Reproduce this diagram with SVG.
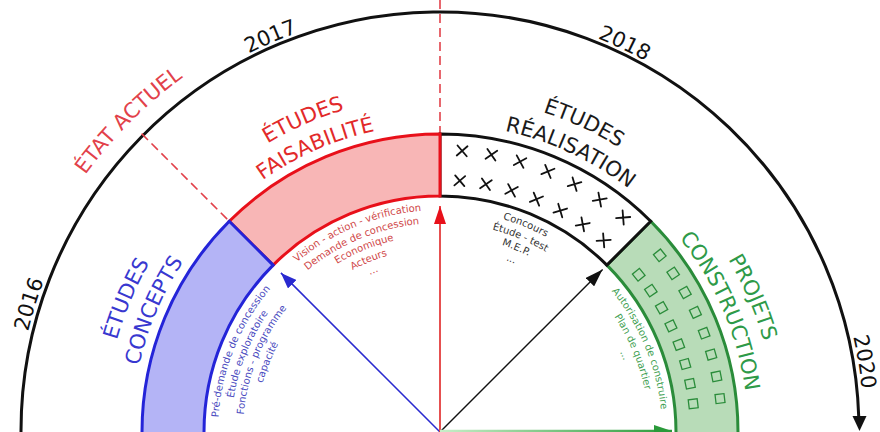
<svg xmlns="http://www.w3.org/2000/svg" xmlns:xlink="http://www.w3.org/1999/xlink" width="880" height="432" viewBox="0 0 880 432">
<style>
.big{font-family:"DejaVu Sans",sans-serif;font-size:21px;text-anchor:middle}
.small{font-family:"DejaVu Sans",sans-serif;font-size:10px;text-anchor:middle}
.year{font-family:"DejaVu Sans",sans-serif;font-size:21px;fill:#111;text-anchor:middle}
.band{stroke-width:3;stroke-linejoin:miter}
.dash{fill:none;stroke:#e2414a;stroke-width:1.6;stroke-dasharray:9 5}
.xm{fill:none;stroke:#111;stroke-width:1.8;stroke-linecap:round}
.sq{fill:none;stroke:#2a8c3a;stroke-width:1.3}
</style>
<defs>
<path id="r172" d="M278.37,490.83 A172,172 0 1 1 601.63,490.83"/>
<path id="r184" d="M267.09,494.93 A184,184 0 1 1 612.91,494.93"/>
<path id="r197" d="M254.88,499.37 A197,197 0 1 1 625.12,499.37"/>
<path id="r209" d="M243.6,503.48 A209,209 0 1 1 636.4,503.48"/>
<path id="r222" d="M231.39,507.92 A222,222 0 1 1 648.61,507.92"/>
<path id="r308" d="M150.57,537.34 A308,308 0 1 1 729.43,537.34"/>
<path id="r336" d="M124.26,546.91 A336,336 0 1 1 755.74,546.91"/>
<path id="r424" d="M41.57,577.01 A424,424 0 1 1 838.43,577.01"/>
<path id="r438" d="M28.41,581.8 A438,438 0 1 1 851.59,581.8"/>
<path id="xmark" d="M-5,-5 L5,5 M5,-5 L-5,5"/>
<rect id="sqr" x="-4.5" y="-4.5" width="9" height="9"/>
<marker id="ah-blue" viewBox="0 0 16 12" refX="16" refY="6" markerWidth="16" markerHeight="12" markerUnits="userSpaceOnUse" orient="auto"><path d="M0,0 L16,6 L0,12 Z" fill="#2a2ad0"/></marker>
<marker id="ah-red" viewBox="0 0 18 12" refX="18" refY="6" markerWidth="18" markerHeight="12" markerUnits="userSpaceOnUse" orient="auto"><path d="M0,0 L18,6 L0,12 Z" fill="#e8101a"/></marker>
<marker id="ah-black" viewBox="0 0 18 12" refX="18" refY="6" markerWidth="18" markerHeight="12" markerUnits="userSpaceOnUse" orient="auto"><path d="M0,0 L18,6 L0,12 Z" fill="#111"/></marker>
<marker id="ah-green" viewBox="0 0 18 12" refX="18" refY="6" markerWidth="18" markerHeight="12" markerUnits="userSpaceOnUse" orient="auto"><path d="M0,0 L18,6 L0,12 Z" fill="#2a9a3a"/></marker>
<linearGradient id="gline" gradientUnits="userSpaceOnUse" x1="440" y1="0" x2="672" y2="0"><stop offset="0" stop-color="#c8eec8"/><stop offset="1" stop-color="#2a9a3a"/></linearGradient>
</defs>
<rect width="880" height="432" fill="#fff"/>

<g id="timeline">
<path d="M21,432 A419,419 0 0 1 858.8,418" fill="none" stroke="#111" stroke-width="3"/>
<polygon points="852.5,416 866.5,416 859.5,431" fill="#111"/>
<line class="dash" x1="440" y1="0" x2="440" y2="134"/>
<text class="year"><textPath href="#r424" startOffset="16.95%">2016</textPath></text>
<text class="year"><textPath href="#r424" startOffset="39.45%">2017</textPath></text>
<text class="year"><textPath href="#r424" startOffset="61.55%">2018</textPath></text>
<text class="year"><textPath href="#r424" startOffset="86.64%">2020</textPath></text>
</g>

<g id="etat-actuel">
<line class="dash" x1="141.6" y1="133.6" x2="229.28" y2="221.28"/>
<text class="big" fill="#e2414a" font-size="20"><textPath href="#r438" startOffset="29.55%">ÉTAT ACTUEL</textPath></text>
</g>

<g id="projets-construction">
<path class="band" d="M650.72,221.28 A298,298 0 0 1 738,432 L738,440 L676,440 L676,432 A236,236 0 0 0 606.88,265.12 Z" fill="#b8dcb8" stroke="#2a8c3a"/>
<g class="sq">
<use href="#sqr" transform="translate(659.77,255.3) rotate(51.2)"/>
<use href="#sqr" transform="translate(673.16,273.38) rotate(55.77)"/>
<use href="#sqr" transform="translate(685.05,292.45) rotate(60.34)"/>
<use href="#sqr" transform="translate(695.39,312.43) rotate(64.91)"/>
<use href="#sqr" transform="translate(704.13,333.2) rotate(69.49)"/>
<use href="#sqr" transform="translate(711.15,354.56) rotate(74.06)"/>
<use href="#sqr" transform="translate(716.46,376.4) rotate(78.63)"/>
<use href="#sqr" transform="translate(720.02,398.61) rotate(83.2)"/>
<use href="#sqr" transform="translate(638.73,274.72) rotate(51.2)"/>
<use href="#sqr" transform="translate(650.84,290.57) rotate(55.77)"/>
<use href="#sqr" transform="translate(661.59,307.8) rotate(60.34)"/>
<use href="#sqr" transform="translate(670.94,325.87) rotate(64.91)"/>
<use href="#sqr" transform="translate(678.84,344.66) rotate(69.49)"/>
<use href="#sqr" transform="translate(685.19,364) rotate(74.06)"/>
<use href="#sqr" transform="translate(690,383.75) rotate(78.63)"/>
<use href="#sqr" transform="translate(693.21,403.81) rotate(83.2)"/>
</g>
<text class="big" fill="#2e9a48"><textPath href="#r336" startOffset="80.32%">PROJETS</textPath></text>
<text class="big" fill="#2e9a48"><textPath href="#r308" startOffset="80.32%">CONSTRUCTION</textPath></text>
<text class="small" fill="#3f9f52"><textPath href="#r222" startOffset="80.64%">Autorisation de construire</textPath></text>
<text class="small" fill="#3f9f52"><textPath href="#r209" startOffset="80.64%">Plan de quartier</textPath></text>
<text class="small" fill="#3f9f52"><textPath href="#r197" startOffset="80.64%">...</textPath></text>
</g>

<g id="etudes-realisation">
<path class="band" d="M440,134 A298,298 0 0 1 650.72,221.28 L606.88,265.12 A236,236 0 0 0 440,196 Z" fill="#fff" stroke="#111"/>
<g class="xm">
<use href="#xmark" transform="translate(462.13,150.87) rotate(4.5)"/>
<use href="#xmark" transform="translate(491.39,154.72) rotate(10.5)"/>
<use href="#xmark" transform="translate(520.09,161.61) rotate(16.5)"/>
<use href="#xmark" transform="translate(547.92,171.47) rotate(22.5)"/>
<use href="#xmark" transform="translate(574.56,184.17) rotate(28.5)"/>
<use href="#xmark" transform="translate(599.73,199.6) rotate(34.5)"/>
<use href="#xmark" transform="translate(623.14,217.56) rotate(40.5)"/>
<use href="#xmark" transform="translate(459.77,180.78) rotate(4.5)"/>
<use href="#xmark" transform="translate(485.92,184.22) rotate(10.5)"/>
<use href="#xmark" transform="translate(511.57,190.38) rotate(16.5)"/>
<use href="#xmark" transform="translate(536.43,199.18) rotate(22.5)"/>
<use href="#xmark" transform="translate(560.24,210.54) rotate(28.5)"/>
<use href="#xmark" transform="translate(582.74,224.32) rotate(34.5)"/>
<use href="#xmark" transform="translate(603.66,240.38) rotate(40.5)"/>
</g>
<text class="big" fill="#1a1a1a"><textPath href="#r336" startOffset="61.36%">ÉTUDES</textPath></text>
<text class="big" fill="#1a1a1a"><textPath href="#r308" startOffset="61.36%">RÉALISATION</textPath></text>
<text class="small" fill="#333"><textPath href="#r222" startOffset="60.23%">Concours</textPath></text>
<text class="small" fill="#333"><textPath href="#r209" startOffset="60.23%">Étude - test</textPath></text>
<text class="small" fill="#333"><textPath href="#r197" startOffset="60.23%">M.E.P.</textPath></text>
<text class="small" fill="#333"><textPath href="#r184" startOffset="60.23%">...</textPath></text>
</g>

<g id="etudes-faisabilite">
<path class="band" d="M229.28,221.28 A298,298 0 0 1 440,134 L440,196 A236,236 0 0 0 273.12,265.12 Z" fill="#f8b6b6" stroke="#e8101a"/>
<text class="big" fill="#e22a2a"><textPath href="#r336" startOffset="39.23%">ÉTUDES</textPath></text>
<text class="big" fill="#e22a2a"><textPath href="#r308" startOffset="39.23%">FAISABILITÉ</textPath></text>
<text class="small" fill="#d04848"><textPath href="#r222" startOffset="39.77%">Vision - action - vérification</textPath></text>
<text class="small" fill="#d04848"><textPath href="#r209" startOffset="39.77%">Demande de concession</textPath></text>
<text class="small" fill="#d04848"><textPath href="#r197" startOffset="39.77%">Economique</textPath></text>
<text class="small" fill="#d04848"><textPath href="#r184" startOffset="39.77%">Acteurs</textPath></text>
<text class="small" fill="#d04848"><textPath href="#r172" startOffset="39.77%">...</textPath></text>
</g>

<g id="etudes-concepts">
<path class="band" d="M142,440 L142,432 A298,298 0 0 1 229.28,221.28 L273.12,265.12 A236,236 0 0 0 204,432 L204,440 Z" fill="#b4b4f6" stroke="#2424d8"/>
<text class="big" fill="#3838d0"><textPath href="#r336" startOffset="19.55%">ÉTUDES</textPath></text>
<text class="big" fill="#3838d0"><textPath href="#r308" startOffset="19.55%">CONCEPTS</textPath></text>
<text class="small" fill="#4a4ac0"><textPath href="#r222" startOffset="19.09%">Pré-demande de concession</textPath></text>
<text class="small" fill="#4a4ac0"><textPath href="#r209" startOffset="19.09%">Étude exploratoire</textPath></text>
<text class="small" fill="#4a4ac0"><textPath href="#r197" startOffset="19.09%">Fonctions - programme</textPath></text>
<text class="small" fill="#4a4ac0"><textPath href="#r184" startOffset="19.09%">capacité</textPath></text>
</g>

<g id="connectors" fill="none">
<line x1="440" y1="432" x2="280.9" y2="272.9" stroke="#2a2ad0" stroke-width="1.5" marker-end="url(#ah-blue)"/>
<line x1="440" y1="432" x2="440" y2="206" stroke="#e65050" stroke-width="2" marker-end="url(#ah-red)"/>
<line x1="440" y1="432" x2="602.6" y2="269.4" stroke="#111" stroke-width="1.4" marker-end="url(#ah-black)"/>
<line x1="440" y1="431" x2="672" y2="431" stroke="url(#gline)" stroke-width="2.5" marker-end="url(#ah-green)"/>
</g>
</svg>
